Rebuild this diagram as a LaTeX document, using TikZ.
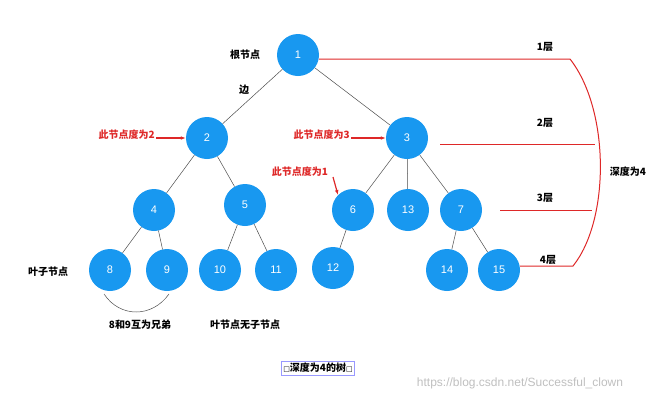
\documentclass[tikz,border=0pt]{standalone}
\usepackage{fontspec}
\setmainfont{Liberation Sans}
\newfontfamily\cjk{Noto Sans CJK SC}
\usetikzlibrary{arrows.meta,positioning}
\definecolor{treeblue}{RGB}{24,152,240}
\definecolor{markred}{RGB}{222,40,40}
\begin{document}
\begin{tikzpicture}[x=1pt,y=-1pt,
    treenode/.style={circle, fill=treeblue, text=white, minimum size=42pt, inner sep=0pt, font=\fontsize{11}{13}\selectfont},
    note/.style={font=\cjk\bfseries\fontsize{10}{12}\selectfont, inner sep=1pt},
    rednote/.style={note, text=markred},
    edge/.style={draw=black!70, line width=0.5pt},
    redline/.style={draw=markred, line width=1pt},
    redarrow/.style={draw=markred, line width=1.2pt, -{Latex[length=5pt]}}]
    \useasboundingbox (0,0) rectangle (665,402);
      \node[treenode] (n1) at (298,55) {1};
      \node[treenode] (n2) at (207,138) {2};
      \node[treenode] (n3) at (407,138) {3};
      \node[treenode] (n4) at (154,210) {4};
      \node[treenode] (n5) at (245,205) {5};
      \node[treenode] (n6) at (353,210) {6};
      \node[treenode] (n13) at (408,210) {13};
      \node[treenode] (n7) at (461,210) {7};
      \node[treenode] (n8) at (110,270) {8};
      \node[treenode] (n9) at (167,270) {9};
      \node[treenode] (n10) at (220,270) {10};
      \node[treenode] (n11) at (276,270) {11};
      \node[treenode] (n12) at (333,268) {12};
      \node[treenode] (n14) at (447,270) {14};
      \node[treenode] (n15) at (499,270) {15};
      % edges
      \draw[edge] (n1) -- (n2);
      \draw[edge] (n1) -- (n3);
      \draw[edge] (n2) -- (n4);
      \draw[edge] (n2) -- (n5);
      \draw[edge] (n3) -- (n6);
      \draw[edge] (n3) -- (n13);
      \draw[edge] (n3) -- (n7);
      \draw[edge] (n4) -- (n8);
      \draw[edge] (n4) -- (n9);
      \draw[edge] (n5) -- (n10);
      \draw[edge] (n5) -- (n11);
      \draw[edge] (n6) -- (n12);
      \draw[edge] (n7) -- (n14);
      \draw[edge] (n7) -- (n15);
      % labels
      \node[note] (root) at (245,55) {根节点};
      \node[note] (bian) at (244,90) {边};
      \node[note] (leaf) at (48,272) {叶子节点};
      \node[note] (sib) at (140,325) {8和9互为兄弟};
      \node[note] (noch) at (245,325) {叶节点无子节点};
      \coordinate (s1) at (104,294);
      \coordinate (s2) at (169,294);
      \draw[edge] (s1) .. controls (120,318) and (152,318) .. (s2);
      % degree notes
      \node[rednote, anchor=east] (deg2) at (156,135) {此节点度为2};
      \draw[redarrow] (deg2.east |- n2) -- (n2.west);
      \node[rednote, anchor=east] (deg3) at (351,135) {此节点度为3};
      \draw[redarrow] (deg3.east |- n3) -- (n3.west);
      \node[rednote] (deg1) at (300,172) {此节点度为1};
      \coordinate (d1) at (333,177);
      \draw[redarrow] (d1) -- (n6.north west);
      % levels
      \node[note] (lv1) at (545,47) {1层};
      \node[note] (lv2) at (545,123) {2层};
      \node[note] (lv3) at (545,198) {3层};
      \node[note] (lv4) at (548,260) {4层};
      \node[note] (depth) at (628,172) {深度为4};
      \coordinate (b1) at (570,59);
      \coordinate (b2) at (573,266);
      \draw[redline] (n1.east |- b1) -- (b1) .. controls (610,110) and (610,220) .. (b2) -- (n15.east |- b2);
      \coordinate (l2a) at (440,144);
      \coordinate (l2b) at (595,144);
      \draw[redline] (l2a) -- (l2b);
      \coordinate (l3a) at (500,210);
      \coordinate (l3b) at (592,210);
      \draw[redline] (l3a) -- (l3b);
      % caption
      \node[note, draw=blue!40, line width=0.4pt, inner sep=2pt] (cap) at (318,368) {\fontspec{DejaVu Sans}\fontsize{7}{8}\selectfont□\cjk\bfseries\fontsize{10}{12}\selectfont 深度为4的树\fontspec{DejaVu Sans}\fontsize{7}{8}\selectfont□};
      \node[text=black!25, font=\fontsize{12}{14}\selectfont] (mark) at (520,383) {https://blog.csdn.net/Successful\_clown};
\end{tikzpicture}
\end{document}
